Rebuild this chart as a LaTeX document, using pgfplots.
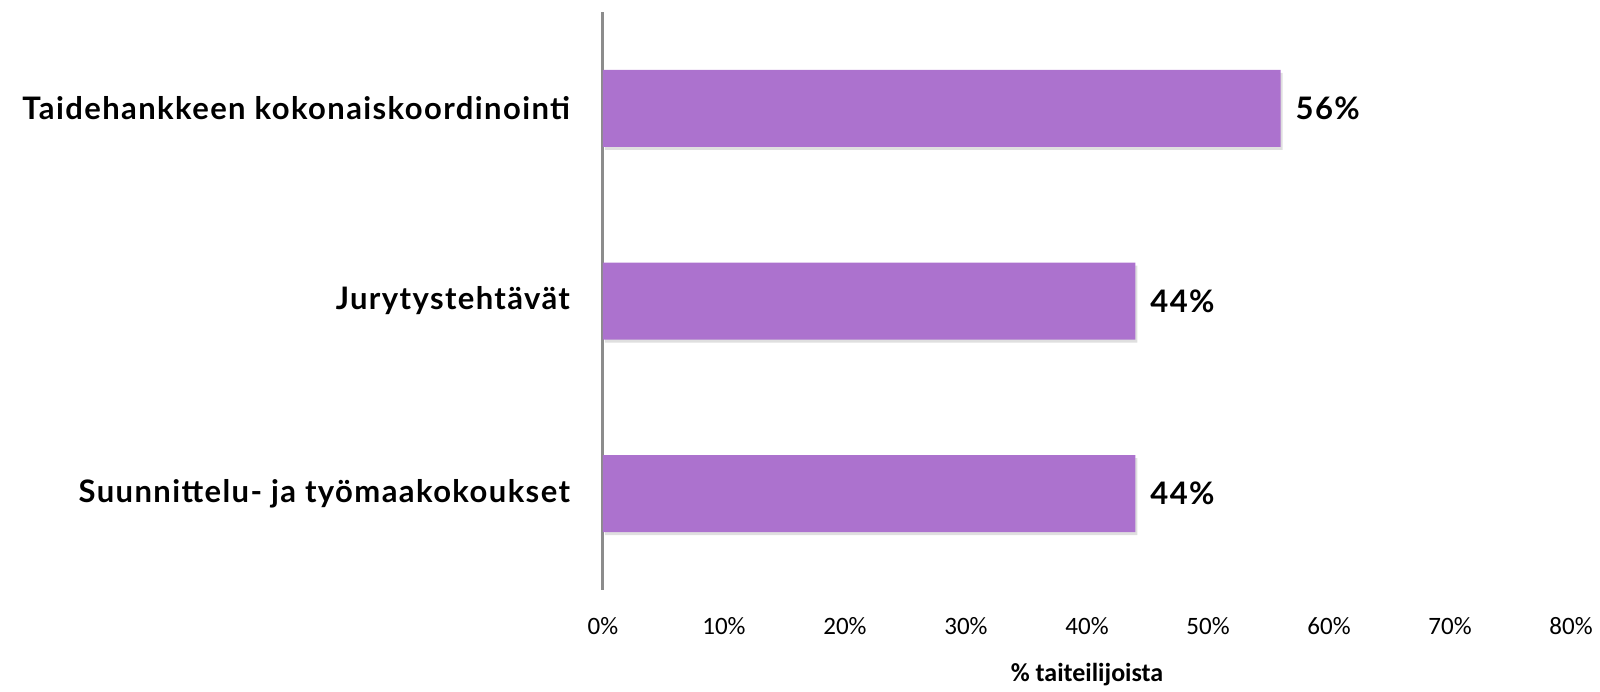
\documentclass[border=0pt]{standalone}
\usepackage{pgfplots}
\pgfplotsset{compat=1.18}
\usepackage{fontspec}
\setmainfont{Carlito}
\newfontfamily\labfont[LetterSpace=4.5]{Lato}
\usetikzlibrary{shadows}
\definecolor{barpurple}{HTML}{AC72CE}
\definecolor{axgray}{HTML}{8C8C8C}
\begin{document}
\begin{tikzpicture}
\useasboundingbox (-301.5pt,-50.5pt) rectangle (498.5pt,295pt);
\begin{axis}[
  at={(0,0)}, anchor=south west,
  scale only axis,
  width=484pt, height=289pt,
  xmin=0, xmax=80,
  ymin=-0.5, ymax=2.5,
  y dir=reverse,
  xbar, bar width=38.5pt,
  axis x line=none,
  axis y line*=left,
  y axis line style={axgray, line width=1.5pt, -},
  ytick={0,1,2},
  yticklabels={Taidehankkeen kokonaiskoordinointi, Jurytystehtävät, Suunnittelu- ja työmaakokoukset},
  yticklabel style={font=\labfont\fontsize{15.5}{18}\selectfont\bfseries, xshift=-13pt},
  major tick length=0pt,
  clip=false,
  /pgf/number format/assume math mode=true,
  nodes near coords={\pgfmathprintnumber{\pgfplotspointmeta}\%},
  nodes near coords style={font=\labfont\fontsize{15.5}{18}\selectfont\bfseries, anchor=west, xshift=4pt},
]
\addplot[fill=barpurple, draw=none, drop shadow={opacity=0.25, shadow xshift=1pt, shadow yshift=-1.5pt}] coordinates {(56,0) (44,1) (44,2)};
\end{axis}
\foreach \v [count=\i from 0] in {0,10,...,80} {
  \node[font=\fontsize{12.5}{14}\selectfont, anchor=center] at (\i*60.5pt, -18pt) {\v\%};
}
\node[font=\fontsize{13}{15}\selectfont\bfseries, anchor=center] at (242pt,-42.5pt) {\% taiteilijoista};
\end{tikzpicture}
\end{document}
